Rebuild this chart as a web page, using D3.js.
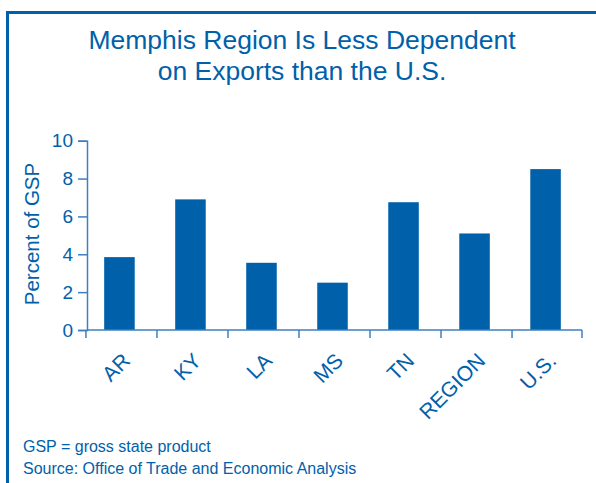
<!DOCTYPE html>
<html>
<head>
<meta charset="utf-8">
<script src="https://cdn.jsdelivr.net/npm/d3@7"></script>
<style>
  body { margin: 0; background: #fff; }
  svg { display: block; font-family: "Liberation Sans", Arial, sans-serif; }
</style>
</head>
<body>
<div class="chart"></div>
<script>
var categories = ['AR', 'KY', 'LA', 'MS', 'TN', 'REGION', 'U.S.'];
var values = [3.85, 6.9, 3.55, 2.5, 6.75, 5.1, 8.5];
var yTicks = [0, 2, 4, 6, 8, 10];
var titleLines = ['Memphis Region Is Less Dependent', 'on Exports than the U.S.'];
var notes = ['GSP = gross state product', 'Source: Office of Trade and Economic Analysis'];

var blue = '#0061aa';
var axisBlue = '#3f7fbf';

var svg = d3.select('.chart')
    .append('svg')
    .attr('width', 596)
    .attr('height', 483);

// frame (only top and left edges show)
svg.append('rect')
    .attr('x', 7.5)
    .attr('y', 12.5)
    .attr('width', 700)
    .attr('height', 600)
    .attr('fill', 'none')
    .attr('stroke', blue)
    .attr('stroke-width', 3);

svg.selectAll('text.title')
    .data(titleLines)
    .enter().append('text')
    .attr('class', 'title')
    .attr('x', 302)
    .attr('y', function(d, i) { return 48.5 + i * 31; })
    .attr('text-anchor', 'middle')
    .attr('font-size', 26.5)
    .attr('fill', blue)
    .text(function(d) { return d; });

var x = d3.scaleBand()
    .domain(categories)
    .range([87, 582])
    .paddingInner(0.57)
    .paddingOuter(0.27);

var y = d3.scaleLinear()
    .domain([0, 10])
    .range([330, 140.7]);

svg.selectAll('rect.bar')
    .data(values)
    .enter().append('rect')
    .attr('class', 'bar')
    .attr('x', function(d, i) { return x(categories[i]) - 2; })
    .attr('y', function(d) { return y(d); })
    .attr('width', x.bandwidth())
    .attr('height', function(d) { return y(0) - y(d); })
    .attr('fill', blue);

// y axis
var yAxis = svg.append('g')
    .attr('transform', 'translate(87,0)')
    .call(d3.axisLeft(y).tickValues(yTicks).tickSize(9).tickPadding(5));
yAxis.select('.domain').attr('stroke', axisBlue).attr('stroke-width', 1.5);
yAxis.selectAll('.tick line').attr('stroke', axisBlue).attr('stroke-width', 1.5);
yAxis.selectAll('.tick text')
    .attr('fill', blue)
    .attr('font-size', 19)
    .attr('font-family', '"Liberation Sans", Arial, sans-serif');

// x axis: boundary ticks between bands
var bounds = categories.map(function(c) { return x(c) - x.step() * x.paddingInner() / 2; });
bounds.push(582);
svg.append('line')
    .attr('x1', 87).attr('x2', 582)
    .attr('y1', 330).attr('y2', 330)
    .attr('stroke', axisBlue)
    .attr('stroke-width', 1.5);
svg.selectAll('line.xtick')
    .data(bounds)
    .enter().append('line')
    .attr('class', 'xtick')
    .attr('x1', function(d) { return d; })
    .attr('x2', function(d) { return d; })
    .attr('y1', 330)
    .attr('y2', 338)
    .attr('stroke', axisBlue)
    .attr('stroke-width', 1.5);

svg.selectAll('text.xlabel')
    .data(categories)
    .enter().append('text')
    .attr('class', 'xlabel')
    .attr('text-anchor', 'end')
    .attr('font-size', 21)
    .attr('fill', blue)
    .attr('transform', function(d) {
      return 'translate(' + (x(d) + x.bandwidth() / 2 + 10) + ',362) rotate(-45)';
    })
    .text(function(d) { return d; });

svg.append('text')
    .attr('transform', 'translate(39,234) rotate(-90)')
    .attr('text-anchor', 'middle')
    .attr('font-size', 20.5)
    .attr('fill', blue)
    .text('Percent of GSP');

svg.selectAll('text.note')
    .data(notes)
    .enter().append('text')
    .attr('class', 'note')
    .attr('x', 23)
    .attr('y', function(d, i) { return 452 + i * 21.5; })
    .attr('font-size', 16)
    .attr('fill', blue)
    .text(function(d) { return d; });
</script>
</body>
</html>
